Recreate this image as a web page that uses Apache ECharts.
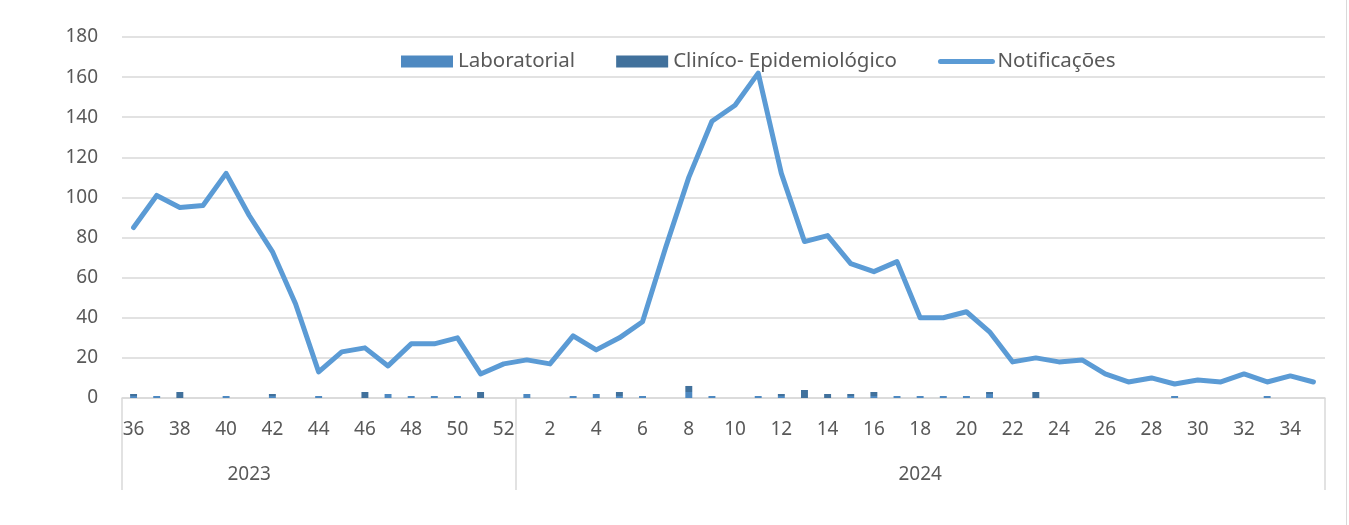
<!DOCTYPE html>
<html>
<head>
<meta charset="utf-8">
<script src="https://cdn.jsdelivr.net/npm/echarts@6/dist/echarts.min.js"></script>
<style>
  html, body { margin: 0; padding: 0; background: #fff; }
  #chart { width: 1346px; height: 525px; border-right: 1px solid #d9d9d9; }
</style>
</head>
<body>
<div id="chart"></div>
<script>
// semanas epidemiológicas: 36-52 de 2023, 1-35 de 2024
const weeks = [36, 37, 38, 39, 40, 41, 42, 43, 44, 45, 46, 47, 48, 49, 50, 51, 52,
  1, 2, 3, 4, 5, 6, 7, 8, 9, 10, 11, 12, 13, 14, 15, 16, 17, 18, 19, 20,
  21, 22, 23, 24, 25, 26, 27, 28, 29, 30, 31, 32, 33, 34, 35]
const years = ['2023', '2024']
const yearSpan = [17, 35] // semanas em cada ano

const notificacoes = [85, 101, 95, 96, 112, 91, 73, 47, 13, 23, 25, 16, 27, 27, 30, 12, 17,
  19, 17, 31, 24, 30, 38, 75, 110, 138, 146, 162, 112, 78, 81, 67, 63, 68, 40, 40, 43,
  33, 18, 20, 18, 19, 12, 8, 10, 7, 9, 8, 12, 8, 11, 8]
const laboratorial = [1, 1, 0, 0, 1, 0, 1, 0, 1, 0, 0, 2, 1, 1, 1, 0, 0,
  2, 0, 1, 2, 1, 1, 0, 3, 1, 0, 1, 1, 0, 0, 1, 1, 1, 1, 1, 1,
  2, 0, 0, 0, 0, 0, 0, 0, 1, 0, 0, 0, 1, 0, 0]
const clinico = [1, 0, 3, 0, 0, 0, 1, 0, 0, 0, 3, 0, 0, 0, 0, 3, 0,
  0, 0, 0, 0, 2, 0, 0, 3, 0, 0, 0, 1, 4, 2, 1, 2, 0, 0, 0, 0,
  1, 0, 3, 0, 0, 0, 0, 0, 0, 0, 0, 0, 0, 0, 0]

// rótulo do ano numa semana do seu bloco
const yearLabels = weeks.map(() => '')
yearLabels[5] = years[0]
yearLabels[yearSpan[0] + 17] = years[1]

const txt = '#595959'
const font = 'Noto Sans'

let myChart = echarts.init(document.getElementById('chart'))
myChart.setOption({
  animation: false,
  textStyle: { fontFamily: font },
  legend: {
    top: 46,
    left: 396,
    itemWidth: 52,
    itemHeight: 12,
    itemGap: 41,
    textStyle: { color: txt, fontSize: 20.5, fontFamily: font },
    data: [
      { name: 'Laboratorial', icon: 'rect' },
      { name: 'Clin\u00edco- Epidemiológico', icon: 'rect' },
      { name: 'Notificações', itemStyle: { opacity: 0 }, lineStyle: { width: 5, cap: 'round' } }
    ]
  },
  grid: { left: 122, right: 21, top: 37, bottom: 127 },
  xAxis: [
    {
      type: 'category',
      data: weeks,
      boundaryGap: true,
      axisLine: { lineStyle: { color: '#d9d9d9', width: 1.5 } },
      axisTick: {
        show: true,
        length: 92,
        interval: function (i) { return i === 0 || i === yearSpan[0] },
        lineStyle: { color: '#d9d9d9', width: 1.5 }
      },
      axisLabel: { interval: 1, color: txt, fontSize: 19, margin: 22 }
    },
    {
      type: 'category',
      data: yearLabels,
      position: 'bottom',
      boundaryGap: true,
      axisLine: { show: false },
      axisTick: { show: false },
      axisLabel: { interval: 0, color: txt, fontSize: 19, margin: 67 }
    }
  ],
  yAxis: {
    type: 'value',
    min: 0,
    max: 180,
    interval: 20,
    axisLine: { show: false },
    axisTick: { show: false },
    axisLabel: { color: txt, fontSize: 19, margin: 24 },
    splitLine: { lineStyle: { color: '#d9d9d9', width: 1.5 } }
  },
  series: [
    {
      name: 'Laboratorial',
      type: 'bar',
      stack: 'casos',
      barWidth: '30%',
      itemStyle: { color: '#4e89c1' },
      data: laboratorial
    },
    {
      name: 'Clin\u00edco- Epidemiológico',
      type: 'bar',
      stack: 'casos',
      barWidth: '30%',
      itemStyle: { color: '#41719c' },
      data: clinico
    },
    {
      name: 'Notificações',
      type: 'line',
      symbol: 'none',
      lineStyle: { color: '#5b9bd5', width: 5, cap: 'round', join: 'round' },
      itemStyle: { color: '#5b9bd5' },
      data: notificacoes
    }
  ]
})
myChart.resize()
</script>
</body>
</html>
